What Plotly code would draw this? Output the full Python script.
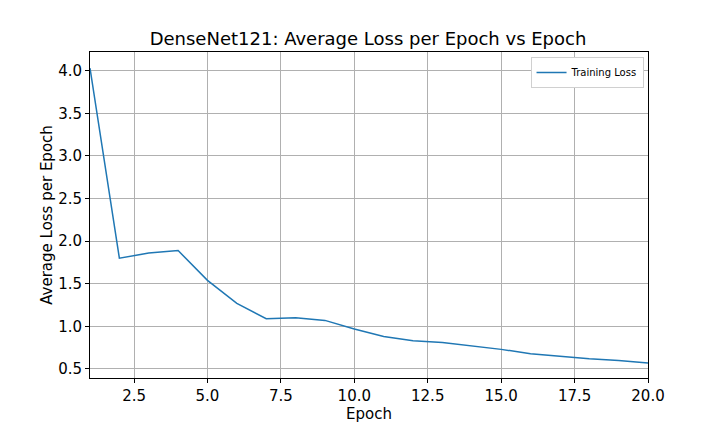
import plotly.graph_objects as go

epochs = list(range(1, 21))
train_loss = [4.03, 1.80, 1.86, 1.89, 1.54, 1.27, 1.09, 1.10, 1.07, 0.97,
              0.88, 0.83, 0.81, 0.77, 0.73, 0.68, 0.65, 0.62, 0.60, 0.57]

fig = go.Figure()
fig.add_trace(go.Scatter(x=epochs, y=train_loss, mode='lines', name='Training Loss',
                         line=dict(color='#1f77b4', width=1.5)))

axis_style = dict(showline=True, linecolor='black', linewidth=1, mirror=True,
                  ticks='outside', ticklen=4, tickcolor='black',
                  showgrid=True, gridcolor='#b0b0b0', gridwidth=1,
                  zeroline=False, automargin=False, tickfont=dict(size=15, color='black'))

# page body has an 8px offset, so margins are shifted to compensate
fig.update_layout(
    width=720, height=432,
    margin=dict(l=82, r=80, t=44, b=62),
    paper_bgcolor='white', plot_bgcolor='white',
    font=dict(family='DejaVu Sans', color='black'),
    title=dict(text='DenseNet121: Average Loss per Epoch vs Epoch', x=0.5, xanchor='center',
               y=0.915, yanchor='bottom', font=dict(size=18)),
    legend=dict(x=0.992, y=0.985, xanchor='right', yanchor='top', bgcolor='white',
                bordercolor='#d0d0d0', borderwidth=1, font=dict(size=10), itemwidth=30,
                tracegroupgap=0),
    showlegend=True,
)
fig.update_xaxes(axis_style, range=[1, 20], dtick=2.5, tick0=0, tickformat='.1f',
                 title=dict(text='Epoch', font=dict(size=15), standoff=0))
fig.update_yaxes(axis_style, range=[0.394, 4.22], dtick=0.5, tick0=0, tickformat='.1f',
                 title=dict(text='Average Loss per Epoch', font=dict(size=15), standoff=1))

fig.write_html("out.html")
